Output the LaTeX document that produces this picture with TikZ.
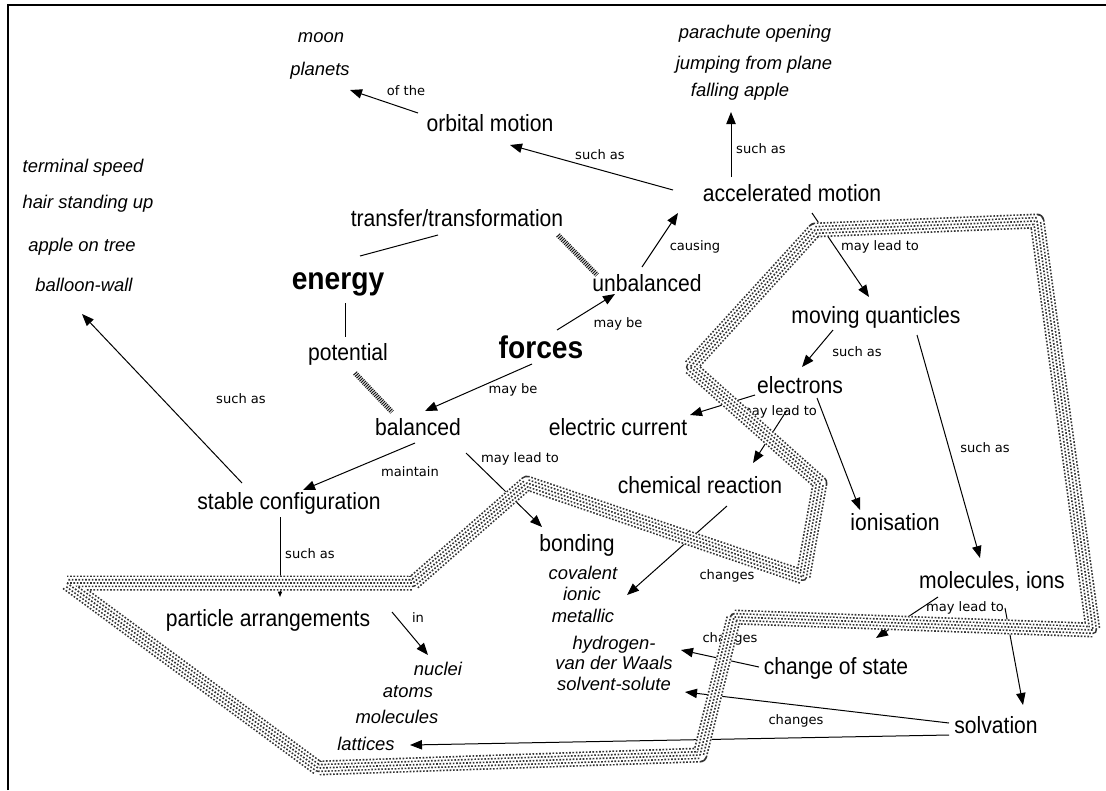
\documentclass[tikz,border=0pt]{standalone}
\usepackage{fontspec}
\setmainfont{Liberation Sans}
\newfontfamily\cfont[FakeStretch=0.9]{Liberation Sans}
\newfontfamily\bfontx[FakeStretch=0.9]{Liberation Sans}
\newfontfamily\lfont{DejaVu Sans}
\usetikzlibrary{arrows.meta}
\newcommand\bandline[1]{\draw[#1] (67,583) -- (318,768) -- (700,755) -- (734,617) -- (1093,630) -- (1037,221) -- (815,230) -- (690,367) -- (820,483) -- (803,577) -- (527,483) -- (413,583) -- cycle;}
\begin{document}
\begin{tikzpicture}[x=0.75pt,y=-0.75pt,
  concept/.style={font=\cfont\fontsize{17.6pt}{20pt}\selectfont, inner sep=0pt, text height=12.8pt, text depth=0pt},
  big/.style={font=\bfontx\bfseries\fontsize{23.5pt}{26pt}\selectfont, inner sep=0pt, text height=17.1pt, text depth=0pt},
  ex/.style={font=\itshape\fontsize{13.8pt}{16pt}\selectfont, inner sep=0pt, text height=10pt, text depth=0pt},
  lab/.style={font=\lfont\fontsize{9.8pt}{11pt}\selectfont, inner sep=0pt, text height=7.3pt, text depth=0pt},
  arr/.style={-{Triangle[length=9pt,width=7pt]}, line width=0.75pt},
  smallarr/.style={-{Triangle[length=4pt,width=3pt]}, line width=0.75pt},
  link/.style={line width=0.75pt},
  hatch/.style={line width=3.75pt, dash pattern=on 0.8pt off 0.8pt, black!90},
  band/.style={line join=round},
  dots/.style={band, black!80, dash pattern=on 1.25pt off 1.25pt}
]
\useasboundingbox (0,0) rectangle (1106,790);
\fill[white] (0,0) rectangle (1106,790);
\draw[line width=1.5pt] (8,790) -- (8,5) -- (1106,5);

% examples (italic)
\node[ex] (moon) at (321,36) {moon};
\node[ex] (planets) at (320,69) {planets};
\node[ex] (parachute) at (755,32) {parachute opening};
\node[ex] (jumping) at (754,63) {jumping from plane};
\node[ex] (falling) at (740,90) {falling apple};
\node[ex] (terminal) at (83,166) {terminal speed};
\node[ex] (hair) at (88,202) {hair standing up};
\node[ex] (appletree) at (82,245) {apple on tree};
\node[ex] (balloon) at (84,285) {balloon-wall};
\node[ex] (nuclei) at (438,669) {nuclei};
\node[ex] (atoms) at (408,691) {atoms};
\node[ex] (molecs) at (397,717) {molecules};
\node[ex] (lattices) at (366,744) {lattices};
\node[ex] (covalent) at (583,573) {covalent};
\node[ex] (ionic) at (582,594) {ionic};
\node[ex] (metallic) at (583,616) {metallic};
\node[ex] (hydrogen) at (614,643) {hydrogen-};
\node[ex] (vdw) at (614,663) {van der Waals};
\node[ex] (solvent) at (614,684) {solvent-solute};

% concepts
\node[concept] (orbit) at (490,123) {orbital motion};
\node[concept] (acc) at (792,193) {accelerated motion};
\node[concept] (transfer) at (457,218) {transfer/transformation};
\node[big] (energy) at (338,278) {energy};
\node[concept] (potential) at (348,352) {potential};
\node[concept] (unbal) at (647,283) {unbalanced};
\node[big] (forces) at (541,347) {forces};
\node[concept] (balanced) at (418,427) {balanced};
\node[concept] (stable) at (289,501) {stable configuration};
\node[concept] (particle) at (268,618) {particle arrangements};
\node[concept] (bonding) at (577,543) {bonding};
\node[concept] (moving) at (876,315) {moving quanticles};
\node[concept] (electrons) at (800,385) {electrons};
\node[concept] (current) at (618,427) {electric current};
\node[concept] (chem) at (700,485) {chemical reaction};
\node[concept] (ionis) at (895,522) {ionisation};
\node[concept] (molions) at (992,580) {molecules, ions};
\node[concept] (cstate) at (836,666) {change of state};
\node[concept] (solvation) at (996,725) {solvation};

% link labels
\node[lab] (l1) at (406,91) {of the};
\node[lab] (l2) at (600,155) {such as};
\node[lab] (l3) at (761,149) {such as};
\node[lab] (l4) at (695,246) {causing};
\node[lab] (l5) at (618,323) {may be};
\node[lab] (l6) at (513,389) {may be};
\node[lab] (l7) at (241,399) {such as};
\node[lab] (l8) at (410,472) {maintain};
\node[lab] (l9) at (520,458) {may lead to};
\node[lab] (l10) at (310,554) {such as};
\node[lab] (l11) at (418,618) {in};
\node[lab] (l12) at (880,246) {may lead to};
\node[lab] (l13) at (857,352) {such as};
\node[lab] (l14) at (778,411) {may lead to};
\node[lab] (l15) at (727,575) {changes};
\node[lab] (l16) at (985,448) {such as};
\node[lab] (l17) at (965,607) {may lead to};
\node[lab] (l18) at (730,638) {changes};
\node[lab] (l19) at (796,720) {changes};

% connectors
\draw[arr] ([shift={(-72,-10)}]orbit.center) -- ([shift={(30,21)}]planets.center);
\draw[arr] ([shift={(-119,-3)}]acc.center) -- ([shift={(20,22)}]orbit.center);
\draw[arr] ([shift={(-61,-16)}]acc.center) -- ([shift={(-9,22)}]falling.center);
\draw[link] ([shift={(-19,17)}]transfer.center) -- ([shift={(22,-22)}]energy.center);
\draw[hatch] ([shift={(101,17)}]transfer.center) -- ([shift={(-50,-8)}]unbal.center);
\draw[link] ([shift={(7,25)}]energy.center) -- ([shift={(-3,-15)}]potential.center);
\draw[hatch] ([shift={(7,21)}]potential.center) -- ([shift={(-26,-15)}]balanced.center);
\draw[arr] ([shift={(-5,-16)}]unbal.center) -- ([shift={(-114,20)}]acc.center);
\draw[arr] ([shift={(16,-17)}]forces.center) -- ([shift={(-32,11)}]unbal.center);
\draw[arr] ([shift={(-9,17)}]forces.center) -- ([shift={(7,-16)}]balanced.center);
\draw[arr] ([shift={(-3,16)}]balanced.center) -- ([shift={(14,-11)}]stable.center);
\draw[arr] ([shift={(-47,-18)}]stable.center) -- ([shift={(-2,29)}]balloon.center);
\draw[arr] ([shift={(48,26)}]balanced.center) -- ([shift={(-35,-16)}]bonding.center);
\draw[smallarr] ([shift={(-9,16)}]stable.center) -- ([shift={(12,-21)}]particle.center);
\draw[arr] ([shift={(124,-6)}]particle.center) -- ([shift={(-10,-14)}]nuclei.center);
\draw[arr] ([shift={(20,20)}]acc.center) -- ([shift={(-7,-18)}]moving.center);
\draw[arr] ([shift={(-43,15)}]moving.center) -- ([shift={(2,-18)}]electrons.center);
\draw[arr] ([shift={(-45,10)}]electrons.center) -- ([shift={(72,-12)}]current.center);
\draw[arr] ([shift={(-13,25)}]electrons.center) -- ([shift={(53,-22)}]chem.center);
\draw[arr] ([shift={(17,13)}]electrons.center) -- ([shift={(-35,-12)}]ionis.center);
\draw[arr] ([shift={(27,21)}]chem.center) -- ([shift={(45,1)}]ionic.center);
\draw[arr] ([shift={(41,20)}]moving.center) -- ([shift={(-12,-22)}]molions.center);
\draw[arr] ([shift={(-54,17)}]molions.center) -- ([shift={(40,-28)}]cstate.center);
\draw[arr] ([shift={(13,28)}]molions.center) -- ([shift={(27,-20)}]solvation.center);
\draw[arr] ([shift={(-77,1)}]cstate.center) -- ([shift={(67,7)}]hydrogen.center);
\draw[arr] ([shift={(-47,-2)}]solvation.center) -- ([shift={(71,8)}]solvent.center);
\draw[arr] ([shift={(-47,10)}]solvation.center) -- ([shift={(44,1)}]lattices.center);

% dotted band
\bandline{band, line width=11.25pt, white}
\bandline{dots, line width=11.25pt}
\bandline{band, line width=8.75pt, white}
\bandline{dots, line width=6.25pt, dash phase=1.25pt}
\bandline{band, line width=3.75pt, white}
\bandline{dots, line width=1.25pt}
\end{tikzpicture}
\end{document}
